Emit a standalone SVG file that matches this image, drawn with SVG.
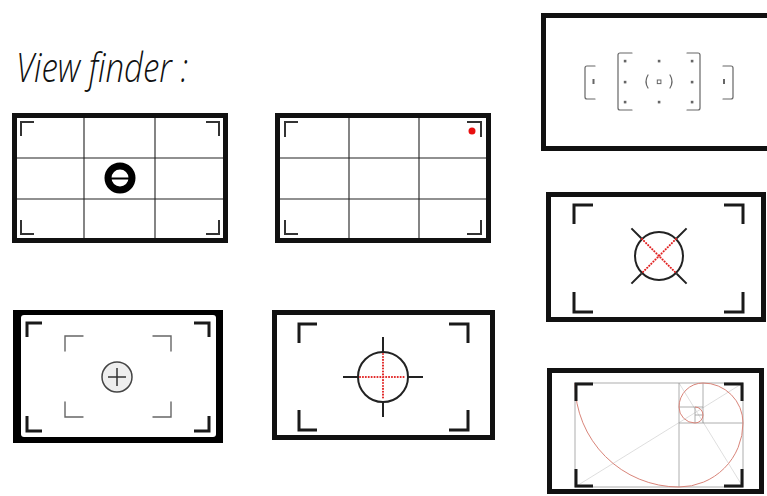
<svg xmlns="http://www.w3.org/2000/svg" width="767" height="496" viewBox="0 0 767 496">
<style>
.frame{fill:none;stroke:#111;stroke-width:5}
.grid{stroke:#222;stroke-width:1.1}
.cb{fill:none;stroke:#333;stroke-width:2}
.cbk{fill:none;stroke:#1a1a1a;stroke-width:3}
.gb{fill:none;stroke:#666;stroke-width:1.2;stroke-linecap:round}
.dot{fill:#666}
.ring{fill:none;stroke:#222;stroke-width:2}
.tick{stroke:#222;stroke-width:2}
.red{stroke:#e02020;stroke-width:2;stroke-linecap:round;stroke-dasharray:0.1 2.8;fill:none}
.gold{fill:none;stroke:#999;stroke-width:0.8}
.diag{stroke:#d6d6d6;stroke-width:0.8}
.spiral{fill:none;stroke:#d9857a;stroke-width:1}
.title{font-family:"Open Sans","Liberation Sans",sans-serif;font-style:italic;font-weight:300;font-size:40px;fill:#111}
</style>
<rect width="767" height="496" fill="#fff"/>
<text class="title" x="16" y="82" textLength="172" lengthAdjust="spacingAndGlyphs">View finder :</text>

<g id="vf-grid-center">
<rect class="frame" x="14.5" y="115.5" width="211" height="125"/>
<path class="grid" d="M84,118V238M155,118V238M17,158H223M17,199H223"/>
<path class="cb" d="M21,136V122H34M206,122H219V136M21,220V234H34M206,234H219V220"/>
<circle cx="120" cy="178" r="12" fill="none" stroke="#000" stroke-width="7"/>
<path d="M111,178.5H129" stroke="#000" stroke-width="2"/>
</g>

<g id="vf-grid-dot">
<rect class="frame" x="277.5" y="115.5" width="211" height="125"/>
<path class="grid" d="M349,118V238M419,118V238M280,158H486M280,199H486"/>
<path class="cb" d="M285,137V122H298M467,122H481V137M285,220V234H298M467,234H481V220"/>
<circle cx="472" cy="131" r="3.5" fill="#e81010"/>
</g>

<g id="vf-af-points">
<rect class="frame" x="543.5" y="15.5" width="232" height="133"/>
<path class="gb" d="M595,66H587Q585,66 585,68V97Q585,99 587,99H595"/>
<rect x="592.5" y="79" width="2" height="5" fill="#666"/>
<path class="gb" d="M723,66H731Q733,66 733,68V97Q733,99 731,99H723"/>
<rect x="723" y="79" width="2" height="5" fill="#666"/>
<path class="gb" d="M632,53H620Q618,53 618,55V108Q618,110 620,110H632"/>
<path class="gb" d="M687,53H698Q700,53 700,55V108Q700,110 698,110H687"/>
<path class="gb" d="M648,75Q644,81.5 648,88M670,75Q674,81.5 670,88"/>
<rect x="657.3" y="80" width="3.6" height="3.6" fill="none" stroke="#666" stroke-width="1"/>
<g class="dot">
<rect x="623.8" y="59.8" width="2.6" height="2.6"/><rect x="623.8" y="80.8" width="2.6" height="2.6"/><rect x="623.8" y="100.8" width="2.6" height="2.6"/>
<rect x="657.8" y="59.8" width="2.6" height="2.6"/><rect x="657.8" y="100.8" width="2.6" height="2.6"/>
<rect x="690.8" y="59.8" width="2.6" height="2.6"/><rect x="690.8" y="80.8" width="2.6" height="2.6"/><rect x="690.8" y="100.8" width="2.6" height="2.6"/>
</g>
</g>

<g id="vf-diagonal">
<rect class="frame" x="548.5" y="194.5" width="215" height="125"/>
<path class="cbk" d="M574,224V205H593M724,205H743V224M574,292V312H593M724,312H743V292"/>
<circle class="ring" cx="659" cy="256" r="24"/>
<path class="tick" d="M641.3,238.3L631.4,228.4M676.7,238.3L686.6,228.4M641.3,273.7L631.4,283.6M676.7,273.7L686.6,283.6"/>
<path class="red" d="M642,239L676,273M676,239L642,273"/>
</g>

<g id="vf-rounded">
<rect x="13" y="310" width="210" height="133" fill="#000"/>
<rect x="21" y="315" width="195" height="122" rx="3" fill="#fff"/>
<path class="cbk" d="M27,337V323H42M194,323H209V337M27,416V431H42M194,431H209V416"/>
<path class="gb" d="M65,351V336H83M153,336H171V351M65,402V417H83M153,417H171V402" style="stroke:#666;stroke-width:1.4"/>
<circle cx="117" cy="377" r="15" fill="#eee" stroke="#444" stroke-width="1.5"/>
<path d="M108,377H126M117,368V386" stroke="#333" stroke-width="1.5"/>
</g>

<g id="vf-crosshair">
<rect class="frame" x="274.5" y="312.5" width="218" height="125"/>
<path class="cbk" d="M299,343V324H317M449,324H468V343M299,410V430H317M449,430H468V410"/>
<circle class="ring" cx="383" cy="377" r="25"/>
<path class="tick" d="M383,337V352M383,402V417M343,377H358M408,377H423"/>
<path class="red" d="M383,354V400M360,377H406"/>
</g>

<g id="vf-golden">
<rect class="frame" x="549.5" y="370.5" width="212" height="121"/>
<path class="diag" d="M575,487L743,383M679,383L743,487"/>
<rect class="gold" x="575" y="383" width="168" height="104" stroke="#bbb"/>
<path class="gold" d="M679,383V487M679,423H743M703,383V423M679,407H703M695,407V423M695,415H703"/>
<path class="spiral" d="M575,383A104,104 0 0 0 679,487A64,64 0 0 0 743,423A40,40 0 0 0 703,383A24,24 0 0 0 679,407A16,16 0 0 0 695,423A8,8 0 0 0 703,415A8,8 0 0 0 695,407"/>
<path class="cbk" stroke-width="4" d="M576,401V384H593M724,384H742V401M576,469V486H593M724,486H742V469"/>
</g>
</svg>
